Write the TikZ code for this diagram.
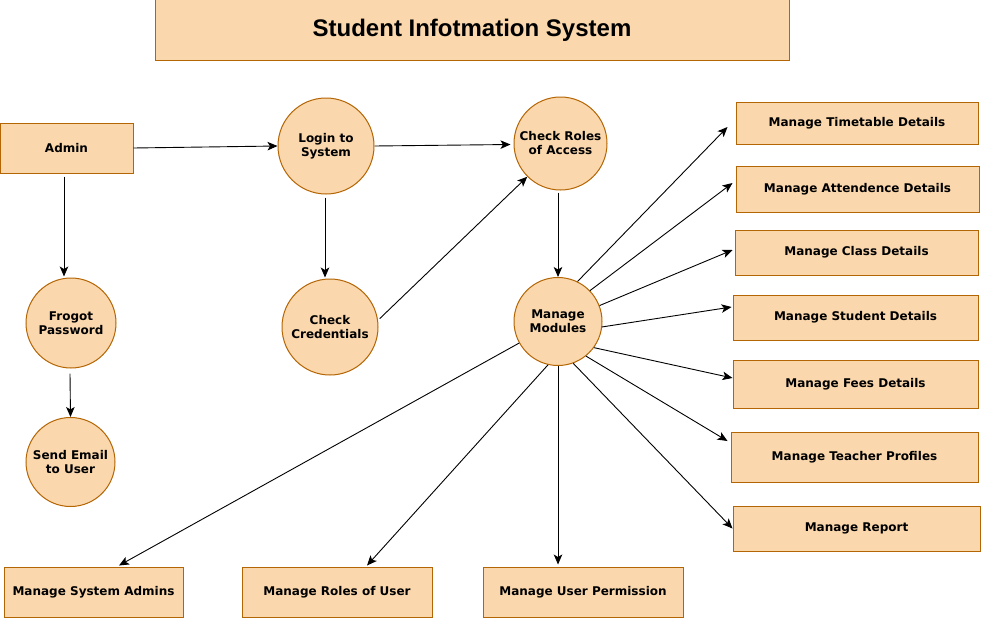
\documentclass[tikz,border=0pt]{standalone}
\usepackage{fontspec}
\setmainfont{DejaVu Sans}
\newfontfamily\titlefont{Liberation Sans}
\usetikzlibrary{arrows.meta,calc}
\definecolor{boxfill}{HTML}{FAD7AC}
\definecolor{boxline}{HTML}{B46504}
\tikzset{
  every node/.style={font=\bfseries\fontsize{12}{14}\selectfont, text=black, align=center, inner sep=0pt},
  proc/.style={circle, draw=boxline, fill=boxfill, line width=1pt},
  entity/.style={rectangle, draw=boxline, fill=boxfill, line width=1pt},
  flow/.style={-{Stealth[length=10pt,width=8.5pt,inset=2.5pt]}, line width=0.9pt, black}
}
\begin{document}
\begin{tikzpicture}[x=1pt,y=-1pt]
\useasboundingbox (0,0) rectangle (981,618);

% title banner
\node[entity, minimum width=634pt, minimum height=60pt, font=\titlefont\bfseries\fontsize{24}{28}\selectfont] (title) at (472,30) {Student Infotmation System};

% left column
\node[entity, minimum width=133pt, minimum height=50pt] (admin) at (66.5,148) {Admin};
\node[proc, minimum size=90pt] (frog) at (71,323) {Frogot\\Password};
\node[proc, minimum size=89pt] (mail) at (70.5,462) {Send Email\\to User};

% login processes
\node[proc, minimum size=96pt] (login) at (326,146) {Login to\\System};
\node[proc, minimum size=96pt] (cred) at (330,327) {Check\\Credentials};
\node[proc, minimum size=93pt] (roles) at (560.5,143.5) {Check Roles\\of Access};
\node[proc, minimum size=88pt] (mm) at (558,321.5) {Manage\\Modules};

% module boxes on the right
\node[entity, minimum width=242pt, minimum height=42pt] (tt) at (857,123) {Manage Timetable Details};
\node[entity, minimum width=243pt, minimum height=46pt] (att) at (857.5,189) {Manage Attendence Details};
\node[entity, minimum width=243pt, minimum height=45pt] (cls) at (856.5,252.5) {Manage Class Details};
\node[entity, minimum width=245pt, minimum height=45pt] (stu) at (855.5,317.5) {Manage Student Details};
\node[entity, minimum width=245pt, minimum height=48pt] (fees) at (855.5,384) {Manage Fees Details};
\node[entity, minimum width=247pt, minimum height=50pt] (tea) at (854.5,457) {Manage Teacher Profiles};
\node[entity, minimum width=247pt, minimum height=45pt] (rep) at (856.5,528.5) {Manage Report};

% module boxes along the bottom
\node[entity, minimum width=179pt, minimum height=50pt] (sa) at (93.5,592) {Manage System Admins};
\node[entity, minimum width=190pt, minimum height=50pt] (rou) at (337,592) {Manage Roles of User};
\node[entity, minimum width=200pt, minimum height=50pt] (up) at (583,592) {Manage User Permission};

% flows
\draw[flow] (admin.east) -- (login.west);
\draw[flow] (login.east) -- ($(roles.west)+(-3,1)$);
\draw[flow] ($(admin.south)+(-2.5,3)$) -- ($(frog.north)+(-7,-1)$);
\draw[flow] ($(frog.south)+(-1,5)$) -- (mail.north);
\draw[flow] ($(login.south)+(-1,3)$) -- ($(cred.north)+(-5,-1)$);
\draw[flow] ($(cred.10)+(2,0)$) -- (roles.225);
\draw[flow] ($(roles.south)+(-2.5,2)$) -- (mm.north);

\draw[flow] (mm.64) -- ($(tt.west)+(-8,4)$);
\draw[flow] (mm.44) -- ($(att.west)+(-3,-6)$);
\draw[flow] (mm.21) -- ($(cls.west)+(-2,-2.5)$);
\draw[flow] (mm.-7) -- ($(stu.west)+(-1,-10.5)$);
\draw[flow] (mm.-36) -- ($(fees.west)+(0,-6)$);
\draw[flow] (mm.-51) -- ($(tea.west)+(-3,-16)$);
\draw[flow] (mm.-70) -- (rep.west);
\draw[flow] (mm.209) -- ($(sa.north)+(25.5,-1)$);
\draw[flow] (mm.257) -- ($(rou.north)+(30,-1)$);
\draw[flow] (mm.south) -- ($(up.north)+(-25,-2)$);
\end{tikzpicture}
\end{document}
